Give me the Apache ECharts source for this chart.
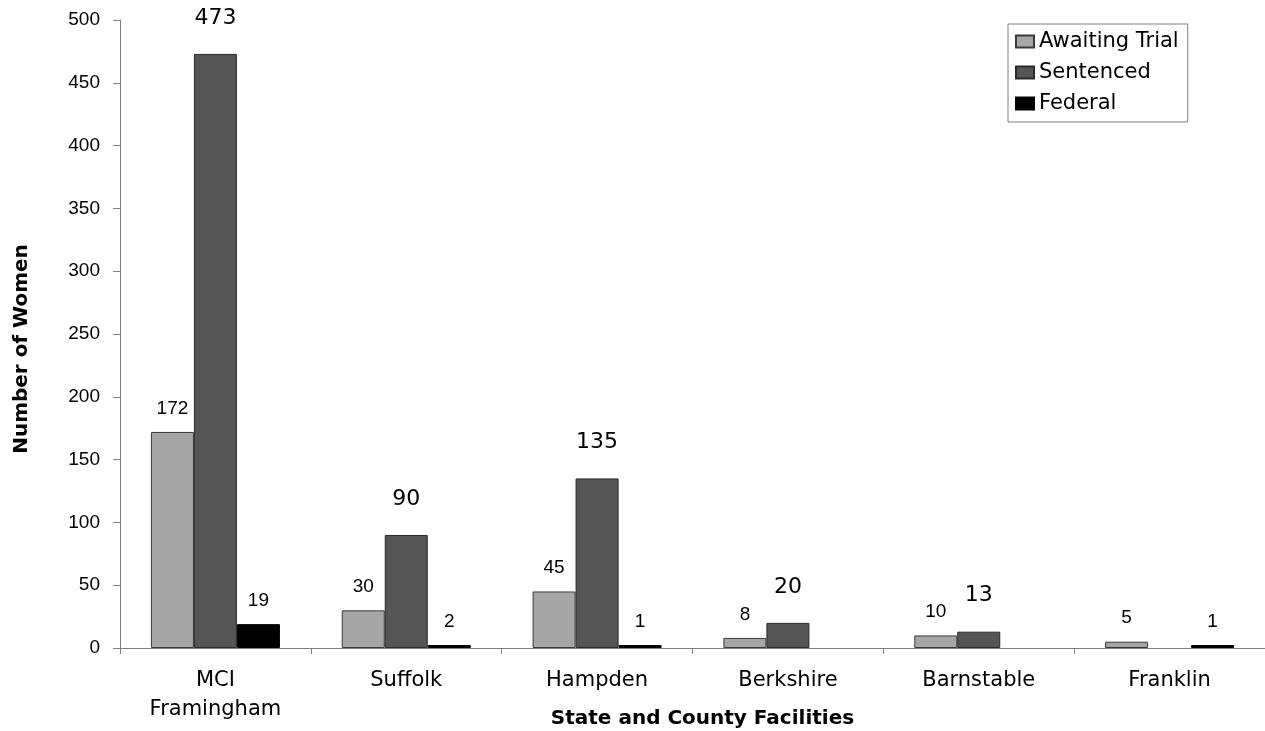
<!DOCTYPE html>
<html>
<head>
<meta charset="utf-8">
<title>Women in State and County Facilities</title>
<script src="https://cdn.jsdelivr.net/npm/echarts@6/dist/echarts.min.js"></script>
<style>
  html, body { margin: 0; padding: 0; background: #fff; }
  #chart { width: 1265px; height: 731px; }
</style>
</head>
<body>
<div id="chart"></div>
<script>
// Facilities along the x axis
const categories = ['MCI\nFramingham', 'Suffolk', 'Hampden', 'Berkshire', 'Barnstable', 'Franklin'];

// Number of women per facility, by status (null = none held)
const awaitingTrial = [172, 30, 45, 8, 10, 5];
const sentenced = [473, 90, 135, 20, 13, null];
const federal = [19, 2, 1, null, null, 1];

// Value axis range
const yMin = 0;
const yMax = 500;
const yStep = 50;

const chart = echarts.init(document.getElementById('chart'), null, { renderer: 'canvas' });

const smallLabel = {
  show: true,
  position: 'top',
  distance: 14,
  color: '#000',
  fontFamily: '"Liberation Sans", Arial, sans-serif',
  fontSize: 19
};

chart.setOption({
  backgroundColor: '#ffffff',
  animation: false,
  grid: { left: 120, right: 0, top: 20, bottom: 83, containLabel: false, outerBoundsMode: 'none' },
  legend: {
    orient: 'vertical',
    left: 1008,
    top: 24,
    padding: [7, 9, 8, 7],
    itemGap: 10,
    itemWidth: 18,
    itemHeight: 12,
    itemTextGap: 10,
    icon: 'rect',
    borderColor: '#7f7f7f',
    borderWidth: 1,
    backgroundColor: '#fff',
    textStyle: { fontFamily: '"DejaVu Sans", Verdana, sans-serif', fontSize: 21, color: '#000' },
    data: ['Awaiting Trial', 'Sentenced', 'Federal']
  },
  xAxis: {
    type: 'category',
    data: categories,
    name: 'State and County Facilities',
    nameLocation: 'middle',
    nameGap: 61,
    nameMoveOverlap: false,
    nameTextStyle: {
      fontFamily: '"DejaVu Sans", Verdana, sans-serif',
      fontWeight: 'bold',
      fontSize: 20,
      color: '#000',
      padding: [0, 0, 0, 20]
    },
    axisLine: { lineStyle: { color: '#808080', width: 1 } },
    axisTick: { show: true, length: 6, lineStyle: { color: '#808080' } },
    axisLabel: {
      margin: 18,
      color: '#000',
      fontFamily: '"DejaVu Sans", Verdana, sans-serif',
      fontSize: 21,
      lineHeight: 29
    }
  },
  yAxis: {
    type: 'value',
    min: yMin,
    max: yMax,
    interval: yStep,
    name: 'Number of Women',
    nameLocation: 'middle',
    nameGap: 88,
    nameMoveOverlap: false,
    nameTextStyle: {
      fontFamily: '"DejaVu Sans", Verdana, sans-serif',
      fontWeight: 'bold',
      fontSize: 20,
      color: '#000',
      padding: [0, 30, 0, 0]
    },
    axisLine: { show: true, lineStyle: { color: '#808080', width: 1 } },
    axisTick: { show: true, length: 7, lineStyle: { color: '#808080' } },
    splitLine: { show: false },
    axisLabel: {
      margin: 20,
      color: '#000',
      fontFamily: '"Liberation Sans", Arial, sans-serif',
      fontSize: 19
    }
  },
  series: [
    {
      name: 'Awaiting Trial',
      type: 'bar',
      data: awaitingTrial,
      barWidth: 43,
      barGap: '0%',
      barMinHeight: 3,
      itemStyle: { color: '#a6a6a6', borderColor: '#3a3a3a', borderWidth: 1 },
      label: smallLabel
    },
    {
      name: 'Sentenced',
      type: 'bar',
      data: sentenced,
      barWidth: 43,
      barGap: '0%',
      barMinHeight: 3,
      itemStyle: { color: '#555555', borderColor: '#2a2a2a', borderWidth: 1 },
      label: {
        show: true,
        position: 'top',
        distance: 25,
        color: '#000',
        fontFamily: '"DejaVu Sans", Verdana, sans-serif',
        fontSize: 22
      }
    },
    {
      name: 'Federal',
      type: 'bar',
      data: federal,
      barWidth: 43,
      barGap: '0%',
      barMinHeight: 3,
      itemStyle: { color: '#000000', borderColor: '#000000', borderWidth: 1 },
      label: smallLabel
    }
  ]
});
</script>
</body>
</html>
